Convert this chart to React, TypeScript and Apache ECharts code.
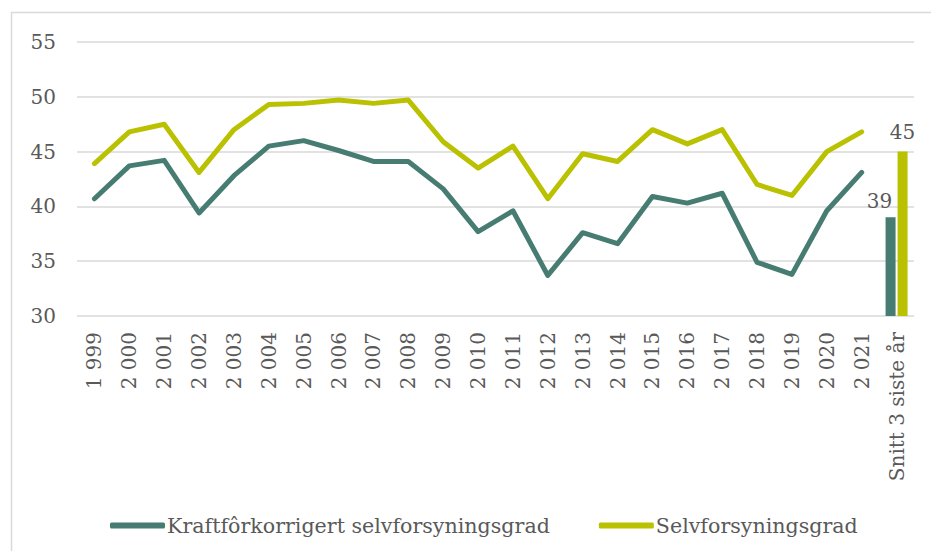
import React, { useEffect, useRef } from "react";
import * as echarts from "echarts";

const categories = [
  "1 999", "2 000", "2 001", "2 002", "2 003", "2 004", "2 005", "2 006",
  "2 007", "2 008", "2 009", "2 010", "2 011", "2 012", "2 013", "2 014",
  "2 015", "2 016", "2 017", "2 018", "2 019", "2 020", "2 021", "Snitt 3 siste år",
];

const kraftforKorrigert = [
  40.7, 43.7, 44.2, 39.4, 42.8, 45.5, 46.0, 45.1, 44.1, 44.1, 41.6, 37.7,
  39.6, 33.7, 37.6, 36.6, 40.9, 40.3, 41.2, 34.9, 33.8, 39.6, 43.1,
];

const selvforsyning = [
  43.9, 46.8, 47.5, 43.1, 47.0, 49.3, 49.4, 49.7, 49.4, 49.7, 45.9, 43.5,
  45.5, 40.7, 44.8, 44.1, 47.0, 45.7, 47.0, 42.0, 41.0, 45.0, 46.8,
];

const snittKraftfor = 39;
const snittSelv = 45;

const yTicks = { min: 30, max: 55, interval: 5 };

const seriesNames = ["Kraftfôrkorrigert selvforsyningsgrad", "Selvforsyningsgrad"];

const DARK = "#477c72";
const LIGHT = "#b9c100";
const TEXT = "#595959";
const FONT = "DejaVu Serif";

export default function App() {
  const ref = useRef<HTMLDivElement>(null);

  useEffect(() => {
    if (!ref.current) return;
    const chart = echarts.init(ref.current, undefined, { renderer: "svg" });
    const n = categories.length;
    const lineData = (arr: number[]) =>
      categories.map((_, i) => (i < arr.length ? arr[i] : "-"));
    const barData = (v: number) =>
      categories.map((_, i) => (i === n - 1 ? v : "-"));

    chart.setOption({
      animation: false,
      backgroundColor: "#ffffff",
      textStyle: { fontFamily: FONT, color: TEXT },
      graphic: [
        {
          type: "rect",
          shape: { x: 11.5, y: 12.5, width: 1200, height: 1200 },
          style: { fill: "none", stroke: "#d9d9d9", lineWidth: 1.5 },
          silent: true,
          z: -10,
        },
      ],
      grid: { left: 77, right: 17, top: 42, bottom: 235, containLabel: false },
      legend: {
        left: 105,
        top: 510,
        itemGap: 49,
        itemWidth: 55,
        itemHeight: 6,
        icon: "roundRect",
        data: seriesNames,
        textStyle: { fontFamily: FONT, fontSize: 20.6, color: TEXT, padding: [0, 0, 0, -3] },
      },
      xAxis: {
        type: "category",
        data: categories,
        boundaryGap: true,
        axisLine: { show: false },
        axisTick: { show: false },
        axisLabel: {
          rotate: 90,
          interval: 0,
          margin: 16,
          fontFamily: FONT,
          fontSize: 20,
          color: TEXT,
        },
      },
      yAxis: {
        type: "value",
        min: yTicks.min,
        max: yTicks.max,
        interval: yTicks.interval,
        axisLine: { show: false },
        axisTick: { show: false },
        splitLine: { lineStyle: { color: "#d9d9d9", width: 1.5 } },
        axisLabel: { margin: 21, fontFamily: FONT, fontSize: 20, color: TEXT },
      },
      series: [
        {
          name: seriesNames[0],
          type: "line",
          data: lineData(kraftforKorrigert),
          showSymbol: false,
          symbol: "none",
          color: DARK,
          lineStyle: { width: 5, color: DARK, cap: "round", join: "round" },
          z: 3,
        },
        {
          name: seriesNames[1],
          type: "line",
          data: lineData(selvforsyning),
          showSymbol: false,
          symbol: "none",
          color: LIGHT,
          lineStyle: { width: 5, color: LIGHT, cap: "round", join: "round" },
          z: 3,
        },
        {
          name: "bar1",
          type: "bar",
          data: barData(snittKraftfor),
          barWidth: 10,
          barGap: "20%",
          itemStyle: { color: DARK },
          label: {
            show: true,
            position: "top",
            offset: [-11, 0],
            distance: 6,
            fontFamily: FONT,
            fontSize: 20,
            color: TEXT,
            formatter: (p: any) => String(Math.round(p.value)),
          },
        },
        {
          name: "bar2",
          type: "bar",
          data: barData(snittSelv),
          barWidth: 10,
          barGap: "20%",
          itemStyle: { color: LIGHT },
          label: {
            show: true,
            position: "top",
            distance: 10,
            fontFamily: FONT,
            fontSize: 20,
            color: TEXT,
            formatter: (p: any) => String(Math.round(p.value)),
          },
        },
      ],
    });

    return () => chart.dispose();
  }, []);

  return (
    <div
      ref={ref}
      style={{ position: "fixed", left: 0, top: 0, width: 931, height: 551, background: "#fff" }}
    />
  );
}
